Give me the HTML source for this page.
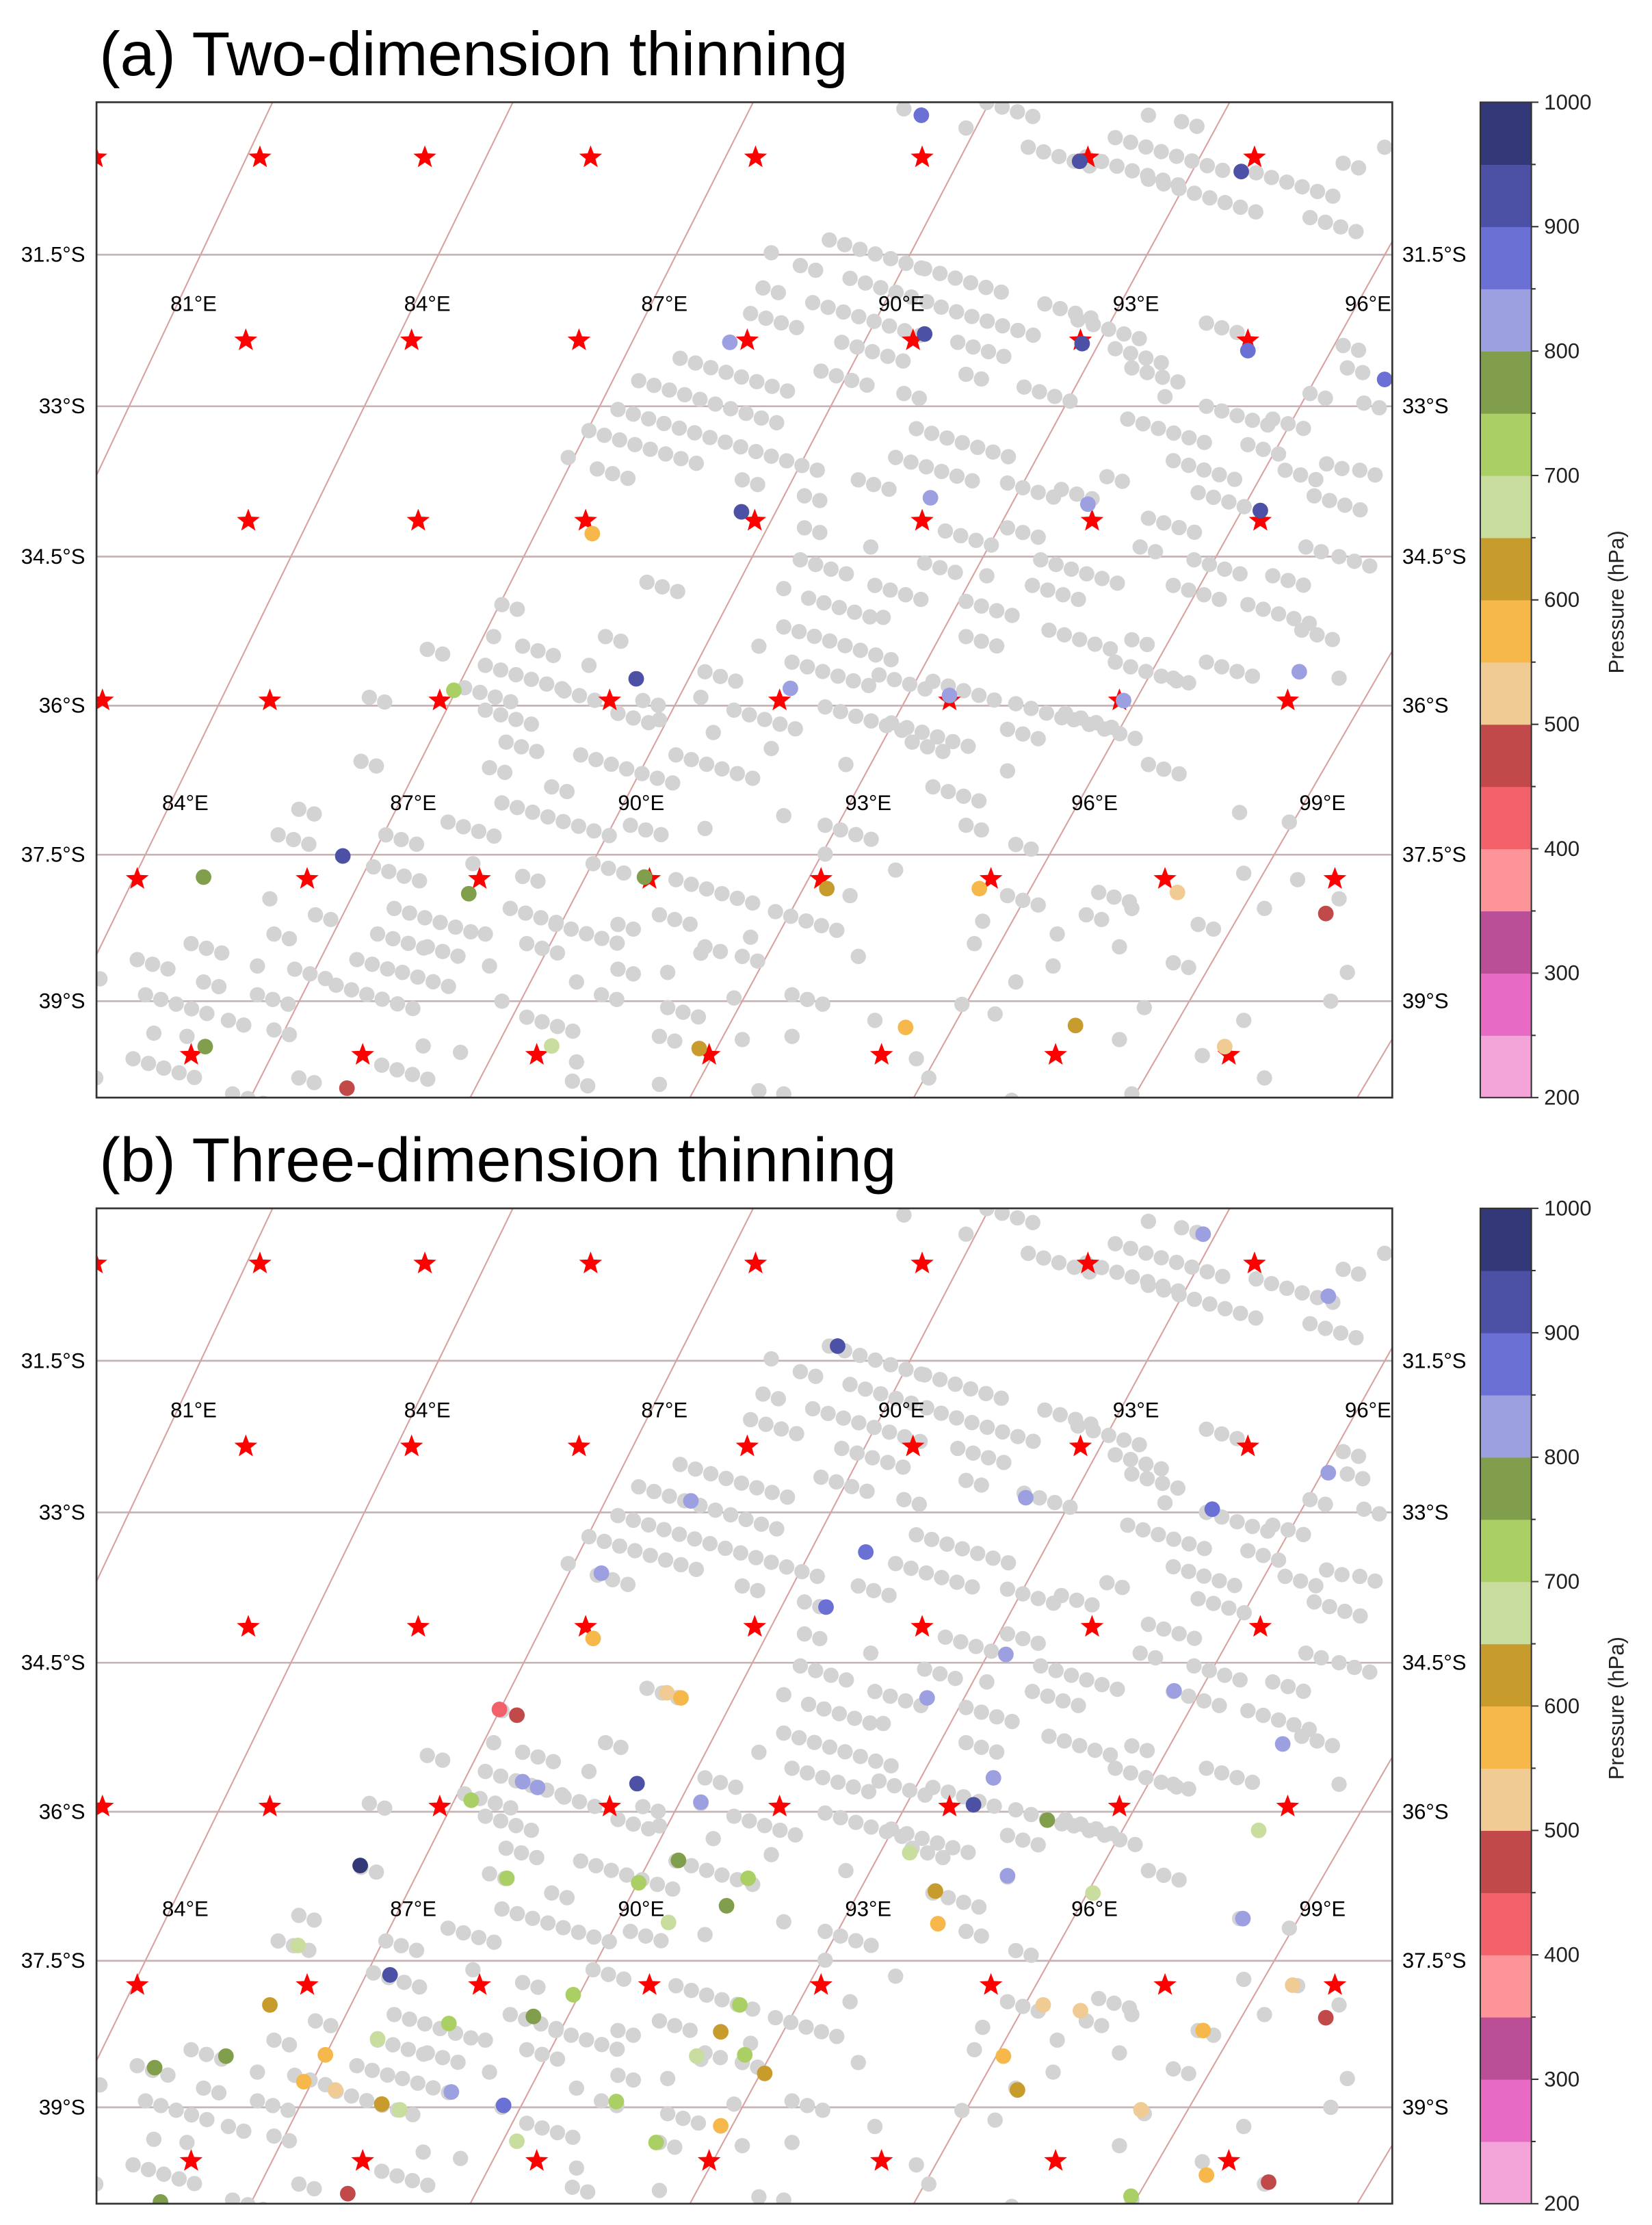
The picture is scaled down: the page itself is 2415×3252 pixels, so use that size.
<!DOCTYPE html>
<html><head><meta charset="utf-8"><style>
html,body{margin:0;padding:0;background:#fff}
svg{display:block}
text{font-family:"Liberation Sans","DejaVu Sans",sans-serif}
</style></head><body>
<svg id="fig" xmlns="http://www.w3.org/2000/svg" width="2415" height="3252" viewBox="0 0 1164 1567" preserveAspectRatio="none">
<rect x="0" y="0" width="1164" height="1567" fill="#fff"/>
<defs>
<clipPath id="clipA"><rect x="68" y="72" width="913" height="701"/></clipPath>
<clipPath id="clipB"><rect x="68" y="851" width="913" height="701"/></clipPath>
</defs>
<text x="70" y="53" font-size="44" fill="#000">(a) Two-dimension thinning</text>
<text x="70" y="832" font-size="44" fill="#000">(b) Three-dimension thinning</text>
<g id="panelA"></g>
<g id="panelB"></g>
<g id="cbarA"></g>
<g id="cbarB"></g>
</svg>
<script>
// ---- data (map units U,V) ----
const latGrid = [24.3, 48.0, 71.5, 94.8, 118.1, 141.0];
const latLabels = ["31.5°S", "33°S", "34.5°S", "36°S", "37.5°S", "39°S"];
const merTop = [21.5, 50.5, 79.5, 108, 137, 166, 195, 224];
const merBottom = [-35.5, -8.5, 18.5, 45, 71.5, 98.5, 125, 152];
const lonUpperU = [11.8, 40.0, 68.6, 97.2, 125.5, 153.5];
const lonUpperText = ["81°E", "84°E", "87°E", "90°E", "93°E", "96°E"];
const lonLowerU = [10.8, 38.3, 65.8, 93.2, 120.5, 148.0];
const lonLowerText = ["84°E", "87°E", "90°E", "93°E", "96°E", "99°E"];
const starRowV = [9.1, 37.7, 65.9, 94.0, 121.9, 149.4];
const starRowU = [
  [0, 19.8, 39.7, 59.7, 79.6, 99.7, 119.7, 139.8],
  [18.1, 38.1, 58.3, 78.6, 98.6, 118.8, 139.0],
  [18.4, 38.9, 59.1, 79.5, 99.7, 120.2, 140.5],
  [0.8, 21.0, 41.5, 62.0, 82.5, 103.0, 123.5, 143.8],
  [5.0, 25.5, 46.3, 66.8, 87.5, 108.0, 129.0, 149.5],
  [11.5, 32.2, 53.2, 74.0, 94.8, 115.8, 136.7]
];
// gray observation segments: [U, V, count]
const graySegs = [
[97.5,1.5,1],[107.5,0.5,4],[105,4.5,1],[112.5,7.5,5],[119.5,9,7],[123,6,8],[127,2.5,1],[131,3.5,2],
[127,12.5,8],[140,11.5,6],[146.5,18.5,4],[150.5,10,2],[155.5,7.5,1],
[88.5,22,7],[81.5,24,1],[85,26,2],[100,26.5,6],[114.5,32,4],[80.5,29.5,2],[91,28,6],[86.5,31.8,8],
[102,32.5,7],[79,33.5,4],[90,38,5],[104,38,4],[70.5,40.5,8],[65.5,44,10],[87.5,42.5,4],[105,43,2],
[112,45,4],[125,42,4],[97.5,46,2],[118.5,34.5,5],[123,39,4],[134,35,3],[129,46.5,1],[134,48,5],
[142,50,3],[146.5,46,2],[151,42,2],[153,47.5,2],[150.5,38.5,2],[124.5,50,6],[139,54,3],
[59.5,51.8,8],[63,48.5,14],[57,56,1],[60.5,57.8,3],[78,59.5,2],[99,51.5,7],[96.5,56,6],[85.5,62,2],
[92,59.5,3],[110,60,4],[116.5,61,3],[122,59,2],[130,56.5,5],[133,61.5,4],[143.5,58,3],[148.5,57,2],
[152.5,58,2],[147,62,4],[127,65.5,4],[102.5,67.5,4],[85.5,67,2],[110,67,3],[114,72,6],[85,72,4],
[93.5,70,1],[100,72.5,3],[107.5,74.5,1],[126,70,2],[132.5,72,4],[142,74.5,3],[146,70,2],[150,71.5,3],
[66.5,75.5,3],[83,76.5,1],[86,78,5],[94,76,4],[105,78.5,4],[113,76,4],[130,76,4],[139,79,5],
[49,79,2],[48,84,1],[51.5,85.5,3],[61.5,84,2],[59.5,88.5,1],[80,85.5,1],[83,82.5,8],[95,81,1],
[105,84,3],[115,83,5],[125,84.5,2],[134,88,4],[145.5,83,3],[40,86,2],[47,88.5,6],[33,93.5,2],
[44.5,92,4],[56.5,92.5,3],[66,94,2],[73,93.5,1],[73.5,89.5,3],[84,88,6],[94.5,90,4],[101,91,5],
[111,94.5,4],[117,96,4],[123,88,5],[130,90.5,2],[150,90.5,1],[47,95.5,4],[63,96,3],[68,97,1],
[74.5,99,1],[77,95.5,5],[88,95,6],[96,97.5,6],[110,98.5,3],[118,97,5],[127,104,3],[49.5,100.5,3],
[58.5,102.5,7],[70,102.5,6],[81.5,101.5,1],[90.5,104,1],[98.5,100.5,3],[101,107.5,4],[110,105,1],
[32,103.5,2],[47.5,104.5,2],[55,107.5,2],[49,110,8],[42.5,113,4],[35,115,3],[22,115,3],[24.5,111,2],
[64.5,113.5,3],[73.5,114,1],[83,112,1],[88,113.5,4],[105,113.5,2],[111,116.5,2],[138,111.5,1],
[144,113,1],[33.5,120,4],[45.5,119.5,1],[51.5,121.5,2],[60,119.5,3],[70,122,6],[88,118,1],[91,124.5,1],
[96.5,120.5,1],[110,124.5,3],[121,124,3],[138.5,121,1],[145,122,1],[21,125,1],[26.5,127.5,2],
[36,126.5,6],[50,126.5,4],[55.5,129,5],[68,127.5,3],[82,127,5],[107,128.5,1],[119.5,127.5,2],
[125,126.5,1],[133,129,2],[141,126.5,1],[150,125,1],[21.5,130.5,2],[34,130.5,4],[40,132.5,3],
[11.5,132,3],[47,130.5,1],[52,132,3],[63,129,2],[73.5,132.5,2],[79,131,1],[106,132,1],[116,130.5,1],
[123.5,132.5,1],[130,135,2],[5,134.5,3],[0.5,137.5,1],[19.5,135.5,1],[24,136,3],[31.5,134.5,3],
[37,136.5,4],[47.5,135.5,1],[58,138,1],[63,136,2],[69,136.5,1],[73,133.5,1],[78,134,2],[92,134,1],
[111,138,1],[115.5,135.5,1],[151,136.5,1],[13,138,2],[6,140,5],[19.5,140,3],[29,138.5,6],[49,141,1],
[52,143.5,4],[61,140,2],[69,142,3],[77,140.5,1],[84,140,3],[94,144,1],[104.5,141.5,1],[108.5,143,1],
[126.5,142,1],[138.5,144,1],[149,141,1],[7,146,1],[16,144,2],[4.5,150,5],[11,146.5,1],[21.5,145.5,2],
[39.5,148,1],[44,149,1],[58,150.5,1],[68,146.5,2],[78,147,1],[84,146.5,1],[99,150,1],[123.5,147,1],
[133.5,149.5,1],[141,153,1],[0,153,1],[24.5,153,2],[16.5,155.5,4],[34.5,151,4],[57.5,153.5,2],
[68,154,1],[80,155,1],[83,155.5,1],[100.5,153,1],[125,155.5,1],[110.5,156.5,1]
];
// colored observations: [U, V, pressure hPa]
const obsA = [
[99.6,2.5,870],[118.7,9.7,900],[138.2,11.3,900],[76.5,38,820],[100,36.7,900],[119,38.2,900],
[139,39.3,880],[155.5,43.8,880],[77.9,64.5,900],[100.7,62.3,830],[119.7,63.3,830],[140.5,64.3,900],
[59.9,67.9,570],[65.2,90.6,900],[83.8,92.1,840],[103,93.2,830],[124,94,820],[145.2,89.5,840],
[43.2,92.4,720],[29.8,118.3,900],[13,121.6,780],[45,124.2,780],[66.2,121.6,780],[88.2,123.4,620],
[106.6,123.4,580],[130.5,124,520],[148.4,127.3,470],[13.2,148.1,780],[55,148,690],[72.8,148.4,620],
[97.7,145.1,580],[118.2,144.8,620],[136.2,148.1,520],[30.3,154.6,470]
];
const obsB = [
[133.6,4.5,830],[148.7,14.2,840],[89.5,22.0,910],[148.7,41.8,840],[71.8,46.2,830],[112.2,45.7,830],
[134.7,47.5,850],[92.9,54.2,860],[61.0,57.5,830],[88.1,62.8,860],[60.0,67.7,560],[109.8,70.2,830],
[100.3,77.0,840],[130.1,75.9,840],[68.9,76.2,520],[70.6,77.0,560],[48.7,78.8,430],[50.8,79.7,470],
[143.2,84.2,840],[65.3,90.4,920],[51.5,90.1,830],[53.3,91.0,830],[73.0,93.3,830],[108.3,89.5,830],
[105.9,93.7,900],[114.8,96.1,780],[45.3,93.0,720],[140.3,97.7,680],[31.9,103.2,960],[70.3,102.4,780],
[98.2,101.2,680],[49.6,105.2,720],[65.5,105.9,720],[78.7,105.2,720],[110.0,104.8,830],[120.3,107.5,680],
[101.3,107.2,620],[76.1,109.5,780],[69.1,112.1,690],[101.6,112.3,580],[138.4,111.5,840],[24.4,115.7,680],
[35.5,120.3,900],[144.4,121.9,540],[21.0,125.0,620],[57.6,123.4,720],[77.7,125.0,720],[114.3,125.0,530],
[118.8,125.9,530],[42.6,127.9,720],[52.8,126.8,780],[148.4,127.0,470],[34.0,130.3,680],[75.4,129.2,620],
[133.6,129.0,580],[27.7,132.8,580],[15.7,133.0,780],[7.1,134.8,780],[72.5,133.0,690],[78.3,132.8,720],
[109.5,133.0,580],[80.7,135.7,620],[25.1,137.0,560],[28.9,138.3,540],[42.9,138.6,840],[111.2,138.3,620],
[34.5,140.5,620],[36.7,141.4,690],[49.2,140.7,860],[62.8,140.1,720],[126.1,141.4,530],[75.4,143.9,580],
[50.8,146.3,690],[67.6,146.5,720],[134.0,151.6,580],[141.5,152.7,470],[30.4,154.5,470],[7.8,155.8,780],
[124.9,154.9,720]
];
const cbarTicks = [1000, 900, 800, 700, 600, 500, 400, 300, 200];
const cbarColors = ["#f3a5da","#e76bc4","#ba4f98","#fd9499","#f26169","#c1494a","#f0cb93","#f6b84a",
                    "#c89b2d","#c9dd9f","#aad065","#819e4c","#9da0e0","#6b70d5","#4d51a5","#333978"];
</script>
<script>
const NS = "http://www.w3.org/2000/svg";
function mk(tag, attrs, parent) {
  const e = document.createElementNS(NS, tag);
  for (const k in attrs) e.setAttribute(k, attrs[k]);
  parent.appendChild(e);
  return e;
}
const X0 = 67.5, SX = 5.84, Y0 = 69.9, SY = 4.505;
function mapX(u) { return X0 + SX * u; }
function mapY(v, off) { return off + Y0 + SY * v; }
function pColor(p) {
  let i = Math.floor((p - 200) / 50);
  i = Math.max(0, Math.min(15, i));
  return cbarColors[i];
}
function starPts(cx, cy, R) {
  const pts = [];
  for (let i = 0; i < 10; i++) {
    const r = i % 2 === 0 ? R : R * 0.42;
    const a = -Math.PI / 2 + i * Math.PI / 5;
    pts.push((cx + r * Math.cos(a)).toFixed(2) + "," + (cy + r * Math.sin(a)).toFixed(2));
  }
  return pts.join(" ");
}
function drawPanel(gid, off, clipId, obs, tag) {
  const g = document.getElementById(gid);
  const top = 72 + off;
  const inner = mk("g", {"clip-path": "url(#" + clipId + ")"}, g);
  
  
  latGrid.forEach((v) => {
    const l = mk("line", {x1: 68, x2: 981, y1: mapY(v, off), y2: mapY(v, off), stroke: "#c4b4b6", "stroke-width": 1.3}, inner);
    
    
  });
  merTop.forEach((u, i) => {
    const l = mk("line", {x1: mapX(u), y1: mapY(0, off), x2: mapX(merBottom[i]), y2: mapY(156.5, off), stroke: "#d9a0a0", "stroke-width": 1}, inner);
    
    
  });
  const gg = mk("g", {fill: "#d3d3d3"}, inner);
  
  
  graySegs.forEach(s => {
    for (let k = 0; k < s[2]; k++) {
      const c = mk("circle", {cx: mapX(s[0] + 1.85 * k), cy: mapY(s[1] + 0.73 * k, off), r: 5.4}, gg);
      
      
    }
  });
  const sg = mk("g", {fill: "#ff0000"}, inner);
  
  
  starRowV.forEach((v, r) => {
    starRowU[r].forEach(u => {
      const p = mk("polygon", {points: starPts(mapX(u), mapY(v, off), 8.5)}, sg);
      
      
    });
  });
  const cg = mk("g", {}, inner);
  
  
  obs.forEach(o => {
    const c = mk("circle", {cx: mapX(o[0]), cy: mapY(o[1], off), r: 5.5, fill: pColor(o[2])}, cg);
    
    
  });
  lonUpperU.forEach((u, i) => {
    const t = mk("text", {x: mapX(u), y: mapY(32, off) + 5, "font-size": 15, "text-anchor": "middle", fill: "#000"}, g);
    t.textContent = lonUpperText[i];
    
    
  });
  lonLowerU.forEach((u, i) => {
    const t = mk("text", {x: mapX(u), y: mapY(110, off) + 5, "font-size": 15, "text-anchor": "middle", fill: "#000"}, g);
    t.textContent = lonLowerText[i];
    
    
  });
  const fr = mk("rect", {x: 68, y: top, width: 913, height: 701, fill: "none", stroke: "#333", "stroke-width": 1.3}, g);
  
  
  latGrid.forEach((v, i) => {
    const y = mapY(v, off) + 5;
    const t1 = mk("text", {x: 60, y: y, "font-size": 15, "text-anchor": "end", fill: "#000"}, g);
    t1.textContent = latLabels[i];
    
    
    const t2 = mk("text", {x: 988, y: y, "font-size": 15, "text-anchor": "start", fill: "#000"}, g);
    t2.textContent = latLabels[i];
    
    
  });
}
function drawCbar(gid, off) {
  const g = document.getElementById(gid);
  const x = 1043, w = 36, top = 72 + off, h = 701;
  const segH = h / cbarColors.length;
  cbarColors.forEach((c, i) => {
    const r = mk("rect", {x: x, y: top + h - (i + 1) * segH, width: w, height: segH + 0.3, fill: c}, g);
    
    
  });
  const fr = mk("rect", {x: x, y: top, width: w, height: h, fill: "none", stroke: "#333", "stroke-width": 1}, g);
  
  
  for (let k = 0; k <= 16; k++) {
    const y = top + k * segH;
    const tl = mk("line", {x1: x + w, x2: x + w + (k % 2 === 0 ? 5 : 3), y1: y, y2: y, stroke: "#333", "stroke-width": 1}, g);
    
    
  }
  cbarTicks.forEach((p) => {
    const y = top + (1000 - p) / 800 * h;
    const t = mk("text", {x: 1088, y: y + 5, "font-size": 15, fill: "#222"}, g);
    t.textContent = String(p);
    
    
  });
  const lab = mk("text", {x: 0, y: 0, "font-size": 15, fill: "#222", "text-anchor": "middle",
    transform: "translate(1144," + (top + 352) + ") rotate(-90)"}, g);
  lab.textContent = "Pressure (hPa)";
  
  
}
drawPanel("panelA", 0, "clipA", obsA, "panel-a");
drawPanel("panelB", 779, "clipB", obsB, "panel-b");
drawCbar("cbarA", 0);
drawCbar("cbarB", 779);
</script>
</body></html>
